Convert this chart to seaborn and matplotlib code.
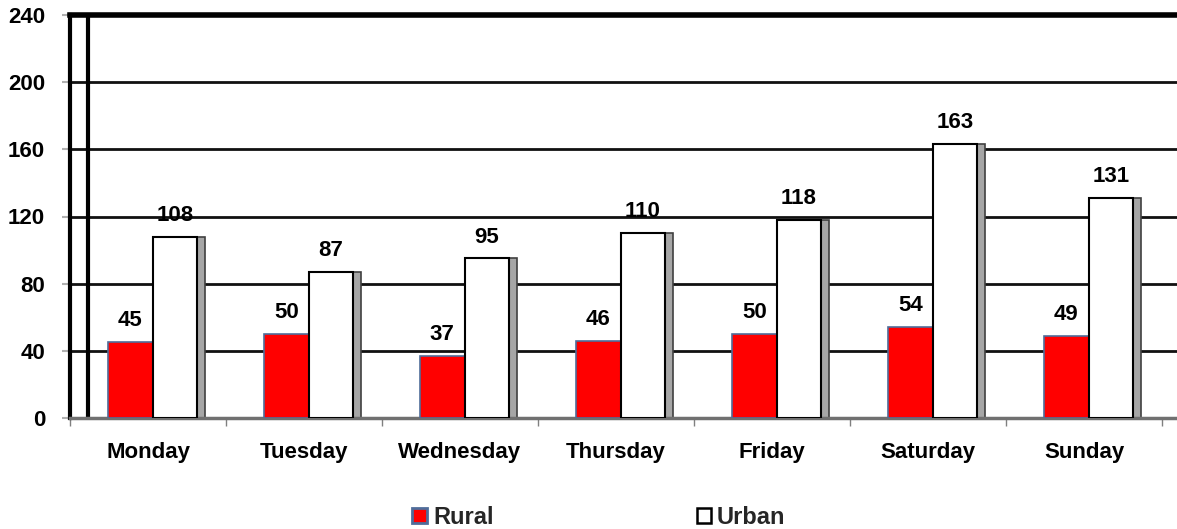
import matplotlib
matplotlib.use("Agg")
import matplotlib.pyplot as plt
import seaborn as sns
import pandas as pd
import numpy as np
from matplotlib.patches import Patch
from matplotlib import font_manager

days = ["Monday", "Tuesday", "Wednesday", "Thursday", "Friday", "Saturday", "Sunday"]
rural = [45, 50, 37, 46, 50, 54, 49]
urban = [108, 87, 95, 110, 118, 163, 131]
series = ["Rural", "Urban"]
y_ticks = [0, 40, 80, 120, 160, 200, 240]

df = pd.DataFrame({
    "day": days * 2,
    "value": rural + urban,
    "area": [series[0]] * len(days) + [series[1]] * len(days),
})

sns.set_theme(style="white")
names = {f.name for f in font_manager.fontManager.ttflist}
narrow = "Liberation Sans Narrow" in names
main_font = "Liberation Sans Narrow" if narrow else "Liberation Sans"
plt.rcParams['font.family'] = [main_font, 'DejaVu Sans']
plt.rcParams['font.weight'] = 'bold'
FS = 17.5 if narrow else 16
LFS = 18.5 if narrow else 17

fig = plt.figure(figsize=(11.77, 5.29), dpi=100)
ax = fig.add_axes([70 / 1177, 111 / 529, 1107 / 1177, 403 / 529])

sns.barplot(data=df, x="day", y="value", hue="area", order=days, hue_order=series,
            palette={"Rural": "#ff0000", "Urban": "#ffffff"}, width=0.57,
            gap=0, dodge=True, saturation=1, legend=False, ax=ax, zorder=3)

shift = 0.029  # slight perspective shift of the bar groups
for p in ax.containers[0]:
    p.set_x(p.get_x() + shift)
    p.set_edgecolor("#4f6d9a")
    p.set_linewidth(1.2)
for p in ax.containers[1]:
    p.set_x(p.get_x() + shift)
    p.set_edgecolor("black")
    p.set_linewidth(1.5)

# gray side faces of the urban bars
sw = 0.05
for p in ax.containers[1]:
    x0 = p.get_x() + p.get_width()
    ax.bar(x0 + sw / 2, p.get_height(), width=sw, color="#a6a6a6",
           edgecolor="#404040", linewidth=1.2, zorder=2.5)

# value labels
for cont, vals in [(ax.containers[0], rural), (ax.containers[1], urban)]:
    for p, v in zip(cont, vals):
        ax.annotate(f"{v}", (p.get_x() + p.get_width() / 2, p.get_height()),
                    xytext=(0, 11.5), textcoords="offset points",
                    ha="center", va="baseline", fontsize=FS, fontweight="bold",
                    color="black", zorder=5)

ax.set_ylim(0, 240)
ax.set_xlim(-0.5, -0.5 + 1107 / 156)
ax.set_yticks(y_ticks)
ax.set_yticklabels([str(t) for t in y_ticks], fontsize=FS, fontweight="bold")
ax.set_xticks(range(len(days)))
ax.set_xticklabels(days, fontsize=FS, fontweight="bold")
ax.set_xticks(np.arange(-0.5, len(days), 1), minor=True)
ax.set_xlabel("")
ax.set_ylabel("")

ax.yaxis.grid(True, color="#111111", linewidth=2, zorder=1)
ax.xaxis.grid(False)
ax.set_axisbelow(True)

ax.tick_params(axis="x", which="major", length=0, pad=17, colors="black")
ax.tick_params(axis="x", which="minor", length=6, width=1, color="#808080", direction="out", bottom=True)
ax.tick_params(axis="y", length=6, width=1.5, color="#b0b0b0", pad=12, left=True, labelcolor="black")

ax.spines["top"].set_color("black")
ax.spines["top"].set_linewidth(4)
ax.spines["left"].set_color("black")
ax.spines["left"].set_linewidth(3)
ax.spines["bottom"].set_color("#707070")
ax.spines["bottom"].set_linewidth(2.5)
ax.spines["right"].set_visible(False)

# back wall line
ax.axvline(-0.5 + 18 / 156, color="black", linewidth=3, zorder=2)

handles = [Patch(facecolor="#ff0000", edgecolor="#4f6d9a", linewidth=2, label="Rural"),
           Patch(facecolor="white", edgecolor="black", linewidth=1.8, label="Urban")]
fig.legend(handles=handles, loc="center", bbox_to_anchor=(599 / 1177, 1 - 517 / 529),
           ncol=2, frameon=False, prop={"weight": "bold", "size": LFS},
           handlelength=0.62, handleheight=0.62, handletextpad=0.25, columnspacing=8.6,
           borderpad=0)

fig.savefig("out.png", dpi=100)
